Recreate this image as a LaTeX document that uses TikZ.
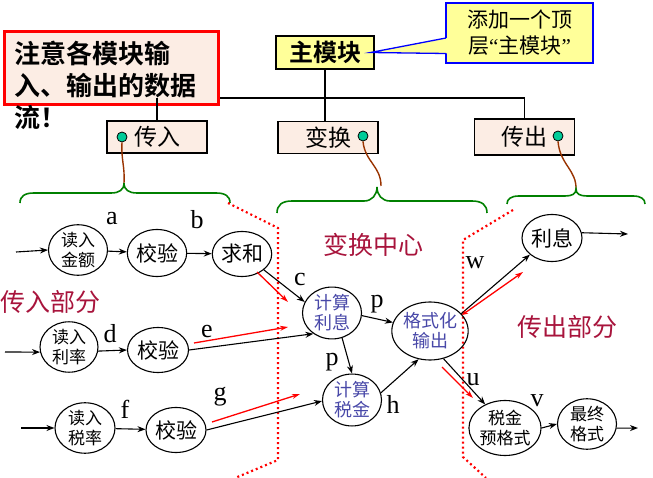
\documentclass[tikz,border=0pt]{standalone}
\usepackage{fontspec}
\setmainfont{Liberation Serif}
\newfontfamily\cjk{Noto Sans CJK SC}
\newfontfamily\cjkbf{Noto Sans CJK SC Bold}
\usetikzlibrary{arrows.meta,shapes.geometric}
\definecolor{peach}{HTML}{FCEDE4}
\definecolor{paleyellow}{HTML}{FFFF99}
\definecolor{knobgreen}{HTML}{00CC99}
\definecolor{wirebrown}{HTML}{993300}
\definecolor{bracegreen}{HTML}{008000}
\definecolor{crimsonlbl}{HTML}{A8143C}
\definecolor{procblue}{HTML}{4848A8}
\newcommand{\openquote}{{\rmfamily “}}
\newcommand{\closequote}{{\rmfamily ”}}
\begin{document}
\begin{tikzpicture}[x=1pt,y=-1pt,
  modbox/.style={draw=black, line width=1.2pt, fill=peach, minimum width=100pt,
    minimum height=32pt, inner sep=0pt, font=\cjk\fontsize{23}{23}\selectfont},
  knob/.style={circle, draw=black, line width=0.8pt, fill=knobgreen, minimum size=10pt, inner sep=0pt},
  wire/.style={draw=wirebrown, line width=1.4pt},
  brace/.style={draw=bracegreen, line width=1.6pt},
  cut/.style={draw=red, line width=2.2pt, dash pattern=on 2pt off 3pt},
  proc/.style={ellipse, draw=black, line width=1.1pt, inner sep=0pt, align=center,
    font=\cjk\fontsize{17}{20}\selectfont},
  bigproc/.style={proc, font=\cjk\fontsize{21}{21}\selectfont},
  inner/.style={proc, text=procblue, font=\cjk\fontsize{18}{20}\selectfont},
  flow/.style={draw=black, line width=1.1pt, -{Stealth[length=8pt,width=6pt]}},
  redflow/.style={draw=red, line width=1.3pt, -{Stealth[length=8pt,width=5pt]}},
  lbl/.style={anchor=base, inner sep=0pt, font=\fontsize{26}{26}\selectfont},
  region/.style={text=crimsonlbl, inner sep=0pt, font=\cjk\fontsize{25}{25}\selectfont}]
\useasboundingbox (0,0) rectangle (653,478);

% ---- module hierarchy ----
\coordinate (bar) at (0,98);
\node[draw=red, line width=3pt, fill=peach, minimum width=214pt, minimum height=73pt,
  inner sep=0pt, anchor=north west] (note) at (3,30) {};
\node[anchor=north west, inner sep=0pt, align=left, font=\cjkbf\fontsize{26}{32}\selectfont]
  (notetext) at (14,41) {注意各模块输\\入、输出的数据\\流！};

\node[draw=black, line width=1.2pt, fill=paleyellow, minimum width=98pt, minimum height=33pt,
  inner sep=0pt, font=\cjkbf\fontsize{24}{24}\selectfont] (main) at (325,52.5) {主模块};

\node[modbox] (ti) at (157,137) {传入};
\node[modbox] (tr) at (328,137.5) {变换};
\node[modbox, minimum height=36pt] (to) at (524.5,137) {传出};

\draw[line width=1.4pt] (main.south) -- (main.south |- tr.north);
\draw[line width=1.4pt] (note.east |- bar) -- (to.north |- bar) -- (to.north);
\draw[line width=1.4pt] (ti.north |- bar) -- (ti.north);

% callout
\node[draw=blue, line width=1.3pt, fill=paleyellow, minimum width=147pt, minimum height=60pt,
  inner sep=0pt, align=center, font=\cjk\fontsize{21}{26}\selectfont] (callout) at (519.5,33)
  {添加一个顶\\层\openquote 主模块\closequote};
\coordinate (tip) at ([xshift=-4pt]main.east);
\fill[paleyellow] (447.5,38) -- (tip) -- (447.5,53.5) -- cycle;
\draw[blue, line width=1.3pt] (446,38) -- (tip) -- (446,53.5);

% knobs and wires to the braces
\node[knob] (k1) at (122,137) {};
\node[knob] (k2) at (363,136) {};
\node[knob] (k3) at (558,136) {};
\coordinate (b1) at (124,183);
\coordinate (b2) at (381,186);
\coordinate (b3) at (576,190);
\draw[wire] (k1.south) .. controls (121,160) and (125,166) .. (b1);
\draw[wire] (k2.south) .. controls (365,162) and (381,166) .. (b2);
\draw[wire] (k3.south) .. controls (560,165) and (577,170) .. (b3);

% braces
\draw[brace] (20,203) .. controls (20,196) and (25,193) .. (34,193) -- (111,193)
  .. controls (119,193) and (124,190) .. (124,183)
  .. controls (124,190) and (129,193) .. (137,193) -- (216,193)
  .. controls (225,193) and (230,196) .. (230,203);
\draw[brace] (277,213) .. controls (277,205) and (282,201) .. (292,201) -- (364,201)
  .. controls (372,201) and (377,195) .. (377,187)
  .. controls (377,195) and (382,201) .. (390,201) -- (472,201)
  .. controls (482,201) and (487,205) .. (487,213);
\draw[brace] (507,204) .. controls (507,199) and (511,196) .. (519,196) -- (565,196)
  .. controls (572,196) and (576,194) .. (576,189)
  .. controls (576,194) and (580,196) .. (587,196) -- (633,196)
  .. controls (641,196) and (645,199) .. (645,204);

% red dotted boundaries
\draw[cut] (228,203) -- (278,228) -- (278,460) -- (235,478);
\draw[cut] (513,210) -- (463,240) -- (463,457) -- (486,478);

% region labels
\node[region] (inpart) at (50,302) {传入部分};
\node[region] (centre) at (373,245) {变换中心};
\node[region] (outpart) at (567,327) {传出部分};

% ---- processes ----
\node[proc, minimum width=59pt, minimum height=44pt] (r1) at (78,250) {读入\\金额};
\node[bigproc, minimum width=58pt, minimum height=47pt] (v1) at (157,253) {校验};
\node[bigproc, minimum width=59pt, minimum height=45pt] (s1) at (242,254) {求和};
\node[proc, minimum width=58pt, minimum height=50pt] (r2) at (69,347) {读入\\利率};
\node[bigproc, minimum width=61pt, minimum height=45pt] (v2) at (158,350) {校验};
\node[proc, minimum width=60pt, minimum height=50pt] (r3) at (85,428) {读入\\税率};
\node[bigproc, minimum width=60pt, minimum height=45pt] (v3) at (176,430) {校验};
\node[inner, minimum width=59pt, minimum height=51pt] (ci) at (332,313) {计算\\利息};
\node[inner, minimum width=59pt, minimum height=45pt] (ct) at (352,400) {计算\\税金};
\node[inner, minimum width=68pt, minimum height=58pt] (fo) at (430,331) {格式化\\输出};
\node[bigproc, minimum width=60pt, minimum height=47pt] (li) at (552,238) {利息};
\node[proc, minimum width=64pt, minimum height=55pt] (tp) at (505,428) {税金\\预格式};
\node[proc, minimum width=59pt, minimum height=43pt] (ff) at (587,424) {最终\\格式};

% free ends
\coordinate (in1) at (16,252);
\coordinate (in2) at (5,352);
\coordinate (in3) at (21,428);
\coordinate (out1) at (628,234);
\coordinate (out2) at (638,428);

% black flows
\draw[flow] (in1) -- (r1.west);
\draw[flow] (r1) -- (v1);
\draw[flow] (v1) -- (s1);
\draw[flow] (in2) -- (r2.190);
\draw[flow] (r2.-8) -- (v2.west);
\draw[flow] (in3) -- (r3.west);
\draw[flow] (r3) -- (v3);
\draw[flow] (s1.-36) -- (ci.158);
\draw[flow] (v2.east) -- (ci.228);
\draw[flow] (v3.east) -- (ct.182);
\draw[flow] (ci.-5) -- (fo.167);
\draw[flow] (ci.-68) -- (ct.north);
\draw[flow] (ct.14) -- (fo.248);
\draw[flow] (fo.29) -- (li.217);
\draw[flow] (fo.-64) -- (tp.130);
\draw[flow] (li.10) -- (out1);
\draw[flow] (tp.east) -- (ff.west);
\draw[flow] (ff.-8) -- (out2);

% red data-flow marks
\coordinate (ra1) at (257,272); \coordinate (ra2) at (288,302);
\coordinate (re1) at (194,343); \coordinate (re2) at (288,327);
\coordinate (rg1) at (212,422); \coordinate (rg2) at (300,394);
\coordinate (rw1) at (462,315); \coordinate (rw2) at (523,272);
\coordinate (ru1) at (442,367); \coordinate (ru2) at (473,398);
\draw[redflow] (ra1) -- (ra2);
\draw[redflow] (re1) -- (re2);
\draw[redflow] (rg1) -- (rg2);
\draw[redflow, {Stealth[length=6pt,width=5pt]}-{Stealth[length=8pt,width=5pt]}] (rw1) -- (rw2);
\draw[redflow] (ru1) -- (ru2);

% flow labels
\node[lbl] (la) at (112,225) {a};
\node[lbl] (lb) at (197,229) {b};
\node[lbl] (lc) at (300,286) {c};
\node[lbl] (ld) at (110,342) {d};
\node[lbl] (le) at (207,337) {e};
\node[lbl] (lf) at (125,418) {f};
\node[lbl] (lg) at (220,400) {g};
\node[lbl] (lp1) at (377,308) {p};
\node[lbl] (lp2) at (332,365) {p};
\node[lbl] (lh) at (393,413) {h};
\node[lbl] (lw) at (475,269) {w};
\node[lbl] (lu) at (473,385) {u};
\node[lbl] (lv) at (537,406) {v};
\end{tikzpicture}
\end{document}
